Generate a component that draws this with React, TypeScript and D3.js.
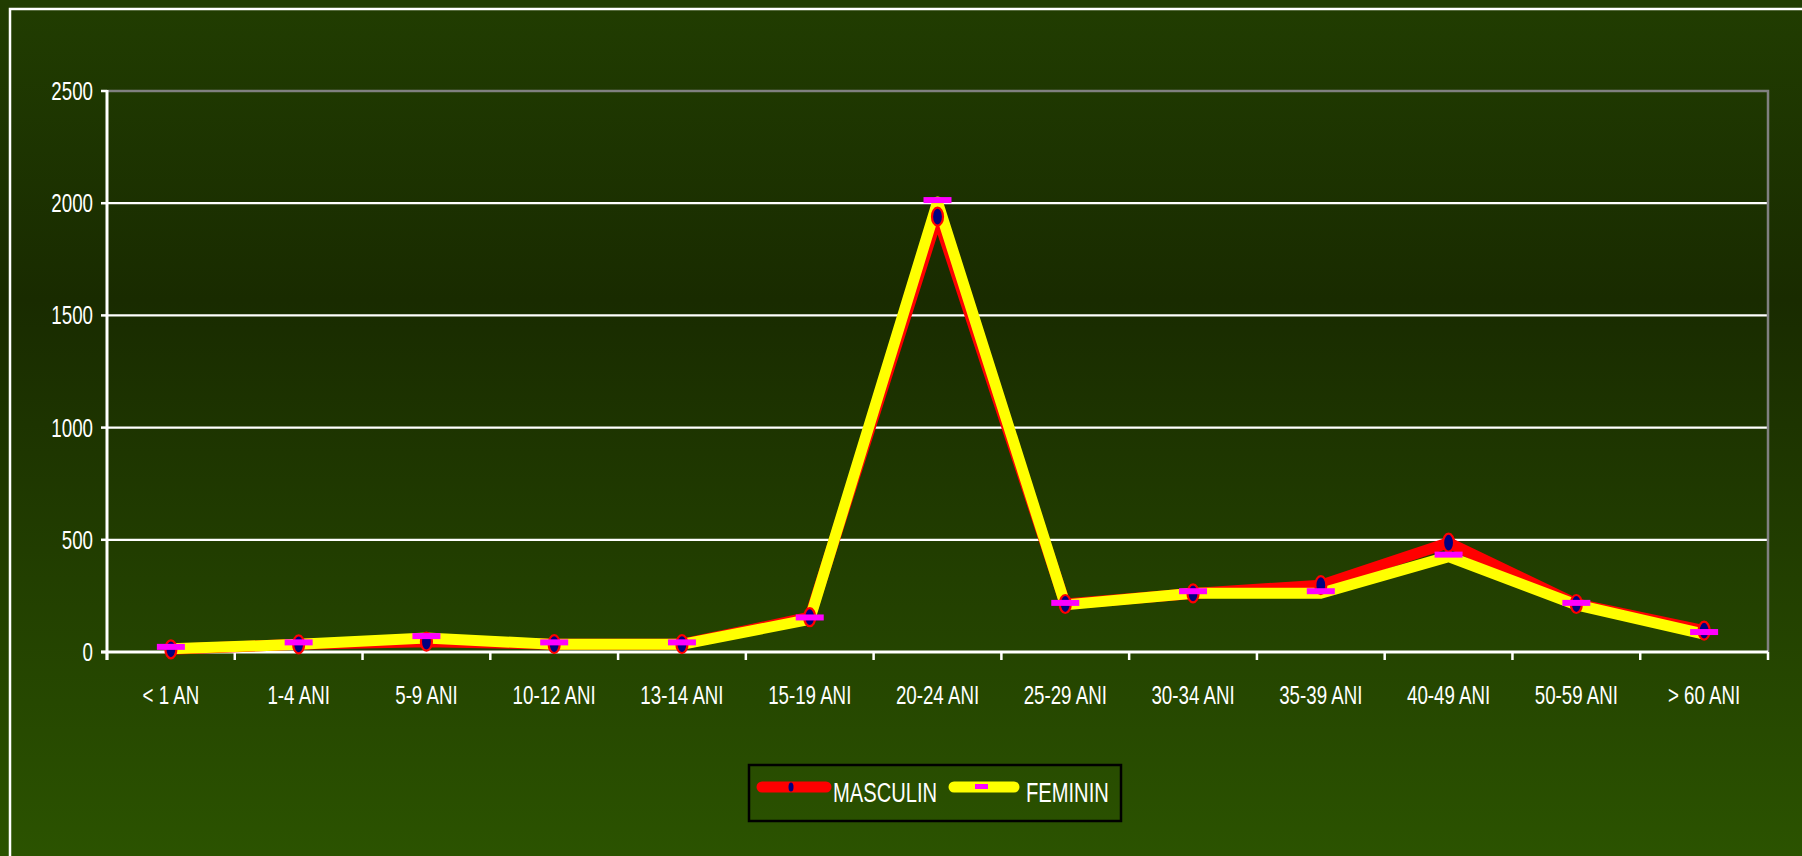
import React, { useEffect, useRef } from "react";
import * as d3 from "d3";

// age groups on the x axis
const categories = [
  "< 1 AN", "1-4 ANI", "5-9 ANI", "10-12 ANI", "13-14 ANI", "15-19 ANI", "20-24 ANI",
  "25-29 ANI", "30-34 ANI", "35-39 ANI", "40-49 ANI", "50-59 ANI", "> 60 ANI",
];
const masculin = [12, 34, 46, 35, 35, 155, 1940, 214, 261, 298, 487, 214, 95];
const feminin = [14, 34, 62, 34, 34, 145, 2005, 210, 262, 262, 425, 210, 80];
const yTicks = [0, 500, 1000, 1500, 2000, 2500];

const W = 1802;
const H = 856;
const FONT = "'Liberation Sans', Arial, sans-serif";
const SQUEEZE = 0.72; // labels in the original are horizontally condensed

const App = () => {
  const svgRef = useRef<SVGSVGElement | null>(null);

  useEffect(() => {
    const margin = { top: 91, left: 107, right: 34, bottom: 204 };
    const innerW = W - margin.left - margin.right;
    const innerH = H - margin.top - margin.bottom;

    const svg = d3.select(svgRef.current).attr("width", W).attr("height", H);
    svg.selectAll("*").remove();

    // background gradient
    const defs = svg.append("defs");
    const grad = defs
      .append("linearGradient")
      .attr("id", "bg")
      .attr("x1", 0).attr("y1", 0).attr("x2", 0).attr("y2", 1);
    grad.append("stop").attr("offset", "0").attr("stop-color", "#213d01");
    grad.append("stop").attr("offset", "0.35").attr("stop-color", "#192b00");
    grad.append("stop").attr("offset", "1").attr("stop-color", "#2b5300");

    svg.append("rect").attr("width", W).attr("height", H).attr("fill", "url(#bg)");

    // outer chart frame (runs off the right and bottom edges)
    svg.append("rect")
      .attr("x", 10).attr("y", 9)
      .attr("width", W).attr("height", H)
      .attr("fill", "none").attr("stroke", "#ffffff").attr("stroke-width", 2.5);

    const x = d3.scaleBand().domain(categories).range([0, innerW]);
    const y = d3.scaleLinear().domain([0, 2500]).range([innerH, 0]);
    const cx = (c: string) => (x(c) as number) + x.bandwidth() / 2;

    const g = svg.append("g").attr("transform", `translate(${margin.left},${margin.top})`);

    // gridlines
    g.selectAll(".grid")
      .data(yTicks.filter((t) => t > 0 && t < 2500))
      .join("line")
      .attr("x1", 0).attr("x2", innerW)
      .attr("y1", (d) => y(d)).attr("y2", (d) => y(d))
      .attr("stroke", "#ffffff").attr("stroke-width", 2.2);

    // plot area top/right border
    g.append("path")
      .attr("d", `M0,${y(2500)}H${innerW}V${innerH}`)
      .attr("fill", "none").attr("stroke", "#808080").attr("stroke-width", 2.5);

    // y axis
    g.append("line")
      .attr("x1", 0).attr("x2", 0).attr("y1", y(2500) - 1).attr("y2", innerH + 8)
      .attr("stroke", "#ffffff").attr("stroke-width", 3);
    g.selectAll(".ytick")
      .data(yTicks)
      .join("line")
      .attr("x1", -6).attr("x2", 0)
      .attr("y1", (d) => y(d)).attr("y2", (d) => y(d))
      .attr("stroke", "#ffffff").attr("stroke-width", 2.5);
    g.selectAll(".ylab")
      .data(yTicks)
      .join("text")
      .attr("transform", (d) => `translate(-14,${y(d) + 9}) scale(${SQUEEZE},1)`)
      .attr("text-anchor", "end")
      .attr("font-family", FONT).attr("font-size", 26)
      .attr("fill", "#ffffff")
      .text((d) => d);

    // x axis
    g.append("line")
      .attr("x1", -6).attr("x2", innerW).attr("y1", innerH).attr("y2", innerH)
      .attr("stroke", "#ffffff").attr("stroke-width", 3);
    const bounds = categories.map((c) => x(c) as number).concat([innerW]);
    g.selectAll(".xtick")
      .data(bounds)
      .join("line")
      .attr("x1", (d) => d).attr("x2", (d) => d)
      .attr("y1", innerH).attr("y2", innerH + 8)
      .attr("stroke", "#ffffff").attr("stroke-width", 2.5);
    g.selectAll(".xlab")
      .data(categories)
      .join("text")
      .attr("transform", (d) => `translate(${cx(d)},${innerH + 52}) scale(${SQUEEZE},1)`)
      .attr("text-anchor", "middle")
      .attr("font-family", FONT).attr("font-size", 26)
      .attr("fill", "#ffffff")
      .text((d) => d);

    // lines
    const line = d3
      .line<number>()
      .x((_, i) => cx(categories[i]))
      .y((d) => y(d));

    g.append("path")
      .attr("d", line(masculin))
      .attr("fill", "none").attr("stroke", "#ff0000").attr("stroke-width", 11)
      .attr("stroke-linejoin", "round");
    g.append("path")
      .attr("d", line(feminin))
      .attr("fill", "none").attr("stroke", "#ffff00").attr("stroke-width", 11)
      .attr("stroke-linejoin", "round");

    // markers
    g.selectAll(".mk")
      .data(masculin)
      .join("ellipse")
      .attr("cx", (_, i) => cx(categories[i]))
      .attr("cy", (d) => y(d))
      .attr("rx", 5.5).attr("ry", 9)
      .attr("fill", "#000080").attr("stroke", "#ff0000").attr("stroke-width", 2.2);
    g.selectAll(".fk")
      .data(feminin)
      .join("rect")
      .attr("x", (_, i) => cx(categories[i]) - 14)
      .attr("y", (d) => y(d) - 5)
      .attr("width", 28).attr("height", 6)
      .attr("fill", "#ff00ff");

    // legend
    const lg = svg.append("g").attr("transform", "translate(749,765)");
    lg.append("rect")
      .attr("width", 372).attr("height", 56)
      .attr("fill", "none").attr("stroke", "#000000").attr("stroke-width", 2.5);
    lg.append("line")
      .attr("x1", 13).attr("x2", 77).attr("y1", 22).attr("y2", 22)
      .attr("stroke", "#ff0000").attr("stroke-width", 11).attr("stroke-linecap", "round");
    lg.append("ellipse")
      .attr("cx", 42).attr("cy", 22).attr("rx", 2.5).attr("ry", 4.5)
      .attr("fill", "#000080");
    lg.append("text")
      .attr("transform", `translate(84,37) scale(${SQUEEZE},1)`)
      .attr("font-family", FONT).attr("font-size", 28)
      .attr("fill", "#ffffff")
      .text("MASCULIN");
    lg.append("line")
      .attr("x1", 205).attr("x2", 265).attr("y1", 22).attr("y2", 22)
      .attr("stroke", "#ffff00").attr("stroke-width", 11).attr("stroke-linecap", "round");
    lg.append("rect")
      .attr("x", 226).attr("y", 19).attr("width", 13).attr("height", 5)
      .attr("fill", "#ff00ff");
    lg.append("text")
      .attr("transform", `translate(277,37) scale(${SQUEEZE},1)`)
      .attr("font-family", FONT).attr("font-size", 28)
      .attr("fill", "#ffffff")
      .text("FEMININ");
  }, []);

  return (
    <svg
      ref={svgRef}
      style={{ position: "absolute", left: 0, top: 0, display: "block" }}
    ></svg>
  );
};

export default App;
